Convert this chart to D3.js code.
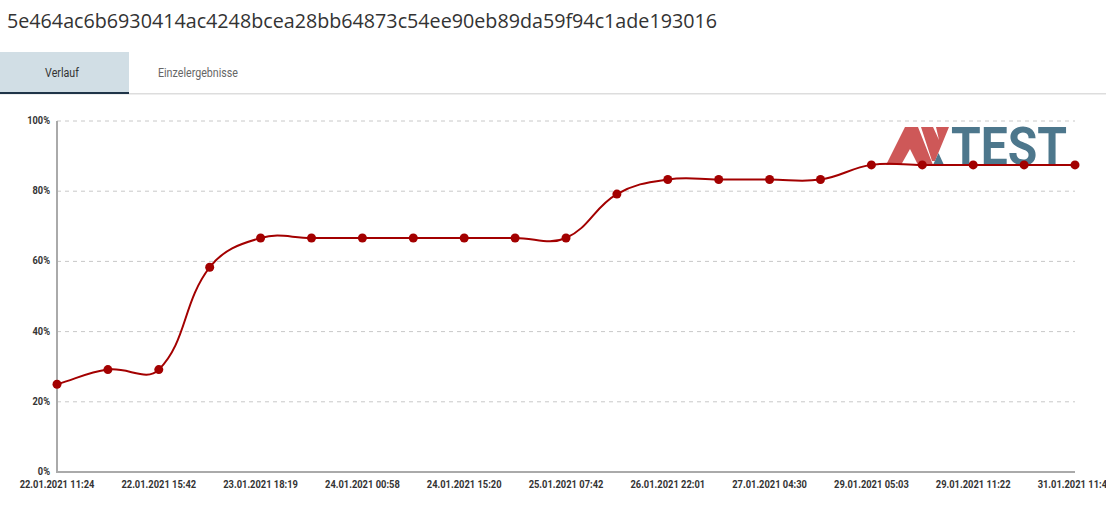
<!DOCTYPE html>
<html>
<head>
<meta charset="utf-8">
<script src="https://cdn.jsdelivr.net/npm/d3@7"></script>
<style>
  html, body { margin: 0; padding: 0; background: #fff; width: 1106px; height: 527px; overflow: hidden; }
  svg { display: block; }
</style>
</head>
<body>
<svg id="chart" width="1106" height="527"></svg>
<script>
const titleText = "5e464ac6b6930414ac4248bcea28bb64873c54ee90eb89da59f94c1ade193016";
const tabs = ["Verlauf", "Einzelergebnisse"];
// values (%) per measurement, in order
const values = [25, 29.17, 29.17, 58.33, 66.67, 66.67, 66.67, 66.67, 66.67, 66.67, 66.67,
                79.17, 83.33, 83.33, 83.33, 83.33, 87.5, 87.5, 87.5, 87.5, 87.5];
// labels shown on every second point
const tickIndex = [0, 2, 4, 6, 8, 10, 12, 14, 16, 18, 20];
const tickLabels = ["22.01.2021 11:24", "22.01.2021 15:42", "23.01.2021 18:19", "24.01.2021 00:58",
  "24.01.2021 15:20", "25.01.2021 07:42", "26.01.2021 22:01", "27.01.2021 04:30",
  "29.01.2021 05:03", "29.01.2021 11:22", "31.01.2021 11:44"];
const yTicks = [0, 20, 40, 60, 80, 100];

const svg = d3.select("#chart");
const condensed = "'Roboto', sans-serif";

// squeeze text horizontally to mimic a condensed face
function squeeze(sel, f) {
  sel.each(function() {
    const w = this.getComputedTextLength();
    d3.select(this).attr("textLength", w * f).attr("lengthAdjust", "spacingAndGlyphs");
  });
}

// Title
svg.append("text").attr("x", 7).attr("y", 28)
  .attr("font-family", "'Open Sans', 'Noto Sans', sans-serif").attr("font-size", 20)
  .attr("fill", "#333").attr("textLength", 710).attr("lengthAdjust", "spacingAndGlyphs").text(titleText);

// Tabs
svg.append("rect").attr("x", 0).attr("y", 52).attr("width", 129).attr("height", 41).attr("fill", "#d1dee5");
svg.append("rect").attr("x", 0).attr("y", 93).attr("width", 1106).attr("height", 1.5).attr("fill", "#dddddd");
svg.append("rect").attr("x", 0).attr("y", 92).attr("width", 129).attr("height", 2).attr("fill", "#1f3448");
svg.append("text").attr("x", 62).attr("y", 77).attr("text-anchor", "middle")
  .attr("font-family", condensed).attr("font-size", 12).attr("fill", "#333").text(tabs[0]).call(squeeze, 0.89);
svg.append("text").attr("x", 198).attr("y", 77).attr("text-anchor", "middle")
  .attr("font-family", condensed).attr("font-size", 12).attr("fill", "#666").text(tabs[1]).call(squeeze, 0.89);

// Scales
const x = d3.scaleLinear().domain([0, values.length - 1]).range([57, 1075]);
const y = d3.scaleLinear().domain([0, 100]).range([472, 121]);

// Grid
svg.append("g").selectAll("line").data(yTicks.filter(d => d > 0)).join("line")
  .attr("x1", x(0)).attr("x2", x(values.length - 1))
  .attr("y1", d => y(d)).attr("y2", d => y(d))
  .attr("stroke", "#c8c8c8").attr("stroke-width", 1).attr("stroke-dasharray", "4,4");

// Logo (watermark)
const logo = svg.append("g").attr("opacity", 0.85);
const red = "#c63c3c";
[
  [[886,165],[905,127],[918,127],[933,165],[918,165],[910,149],[901,165]],
  [[921,127],[933,127],[939,140],[936,127],[949,127],[935,161],[932,161]]
].forEach(p => logo.append("polygon").attr("points", p.map(q => q.join(",")).join(" ")).attr("fill", red));
logo.append("polygon").attr("points", "933,165 944,165 938.5,153").attr("fill", "#2f6079");
logo.append("text").attr("x", 951).attr("y", 165)
  .attr("font-family", "'Roboto', sans-serif").attr("font-weight", "bold")
  .attr("font-size", 53).attr("fill", "#2f6079")
  .attr("textLength", 116).attr("lengthAdjust", "spacingAndGlyphs").text("TEST");

// Axes lines
svg.append("line").attr("x1", x(0)).attr("x2", x(0)).attr("y1", y(100)).attr("y2", y(0))
  .attr("stroke", "#aaa").attr("stroke-width", 2);
svg.append("line").attr("x1", x(0) - 1).attr("x2", x(values.length - 1)).attr("y1", y(0)).attr("y2", y(0))
  .attr("stroke", "#aaa").attr("stroke-width", 2);

// Y labels
svg.append("g").selectAll("text").data(yTicks).join("text")
  .attr("x", 50).attr("y", d => y(d) + 3).attr("text-anchor", "end")
  .attr("font-family", condensed).attr("font-size", 10.5).attr("font-weight", "bold").attr("fill", "#333")
  .text(d => d + "%").call(squeeze, 0.88);

// X labels
svg.append("g").selectAll("text").data(tickIndex).join("text")
  .attr("x", d => x(d)).attr("y", 488).attr("text-anchor", "middle")
  .attr("font-family", condensed).attr("font-size", 10.5).attr("font-weight", "bold").attr("fill", "#333")
  .text((d, i) => tickLabels[i]).call(squeeze, 0.89);

// Line: Chart.js-style spline (tension 0.4, distance weighted)
const pts = values.map((v, i) => ({ x: x(i), y: y(v) }));
const t = 0.4;
pts.forEach((p, i) => {
  const prev = pts[i - 1] || p, next = pts[i + 1] || p;
  const d01 = Math.hypot(p.x - prev.x, p.y - prev.y);
  const d12 = Math.hypot(next.x - p.x, next.y - p.y);
  let s01 = d01 / (d01 + d12), s12 = d12 / (d01 + d12);
  if (!isFinite(s01)) s01 = 0; if (!isFinite(s12)) s12 = 0;
  const fa = t * s01, fb = t * s12;
  p.cpPrev = { x: p.x - fa * (next.x - prev.x), y: p.y - fa * (next.y - prev.y) };
  p.cpNext = { x: p.x + fb * (next.x - prev.x), y: p.y + fb * (next.y - prev.y) };
});
const path = d3.path();
path.moveTo(pts[0].x, pts[0].y);
for (let i = 1; i < pts.length; i++) {
  const a = pts[i - 1], b = pts[i];
  path.bezierCurveTo(a.cpNext.x, a.cpNext.y, b.cpPrev.x, b.cpPrev.y, b.x, b.y);
}
svg.append("path").attr("d", path.toString())
  .attr("fill", "none").attr("stroke", "#a30000").attr("stroke-width", 2);
svg.append("g").selectAll("circle").data(values).join("circle")
  .attr("cx", (d, i) => x(i)).attr("cy", d => y(d)).attr("r", 4.5).attr("fill", "#a30000");
</script>
</body>
</html>
